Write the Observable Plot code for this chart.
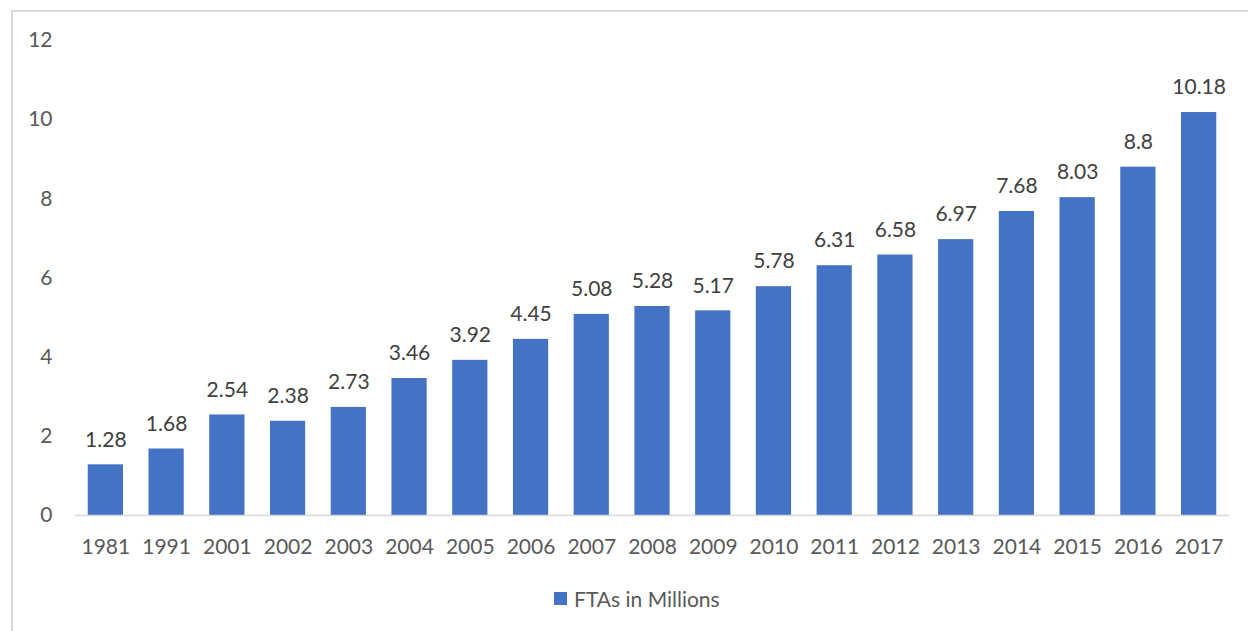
<!DOCTYPE html>
<html>
<head>
<meta charset="utf-8">
<script src="https://cdn.jsdelivr.net/npm/d3@7"></script>
<script src="https://cdn.jsdelivr.net/npm/@observablehq/plot@0.6"></script>
<style>
  html, body { margin: 0; padding: 0; background: #fff; }
  #wrap { position: relative; width: 1248px; height: 631px; overflow: hidden; font-family: Lato, "Open Sans", sans-serif; }
  #frame { position: absolute; left: 11px; top: 10px; width: 1300px; height: 700px; border-left: 2px solid #d9d9d9; border-top: 2px solid #d9d9d9; box-sizing: border-box; }
  #chart { position: absolute; left: 0; top: 0; }
  #legend { position: absolute; left: 554px; top: 586px; display: flex; align-items: center; font-size: 21px; color: #595959; }
  #legend .sw { width: 13px; height: 13px; background: #4472C4; margin-right: 7px; }
</style>
</head>
<body>
<div id="wrap">
  <div id="frame"></div>
  <div id="chart"></div>
  <div id="legend"><span class="sw"></span><span>FTAs in Millions</span></div>
</div>
<script>
const years = ["1981","1991","2001","2002","2003","2004","2005","2006","2007","2008","2009","2010","2011","2012","2013","2014","2015","2016","2017"];
const ftas = [1.28,1.68,2.54,2.38,2.73,3.46,3.92,4.45,5.08,5.28,5.17,5.78,6.31,6.58,6.97,7.68,8.03,8.8,10.18];
const yTicks = [0,2,4,6,8,10,12];
const seriesName = "FTAs in Millions";

const data = years.map((y, i) => ({year: y, value: ftas[i]}));

const plot = Plot.plot({
  width: 1248,
  height: 580,
  marginLeft: 75,
  marginRight: 19,
  marginTop: 40,
  marginBottom: 65,
  style: {fontFamily: "Lato, 'Open Sans', sans-serif", fontSize: "21px", color: "#595959", background: "transparent"},
  x: {domain: years, paddingInner: 0.42, paddingOuter: 0.21, round: false, label: null, tickSize: 0, tickPadding: 24},
  y: {domain: [0, 12], ticks: yTicks, label: null, tickSize: 0, tickPadding: 23},
  marks: [
    Plot.barY(data, {x: "year", y: "value", fill: "#4472C4"}),
    Plot.ruleY([0], {stroke: "#d9d9d9", strokeWidth: 1.5}),
    Plot.text(data, {x: "year", y: "value", text: d => String(d.value), dy: -25, fill: "#404040", fontSize: 21})
  ]
});
document.getElementById("chart").appendChild(plot);
</script>
</body>
</html>
